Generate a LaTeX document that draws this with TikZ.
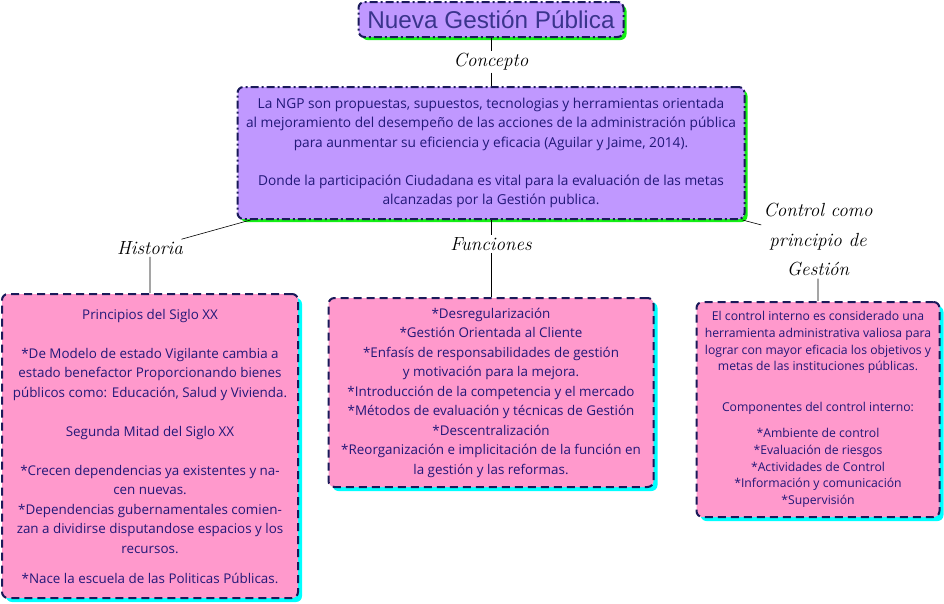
\documentclass[tikz,border=0pt]{standalone}
\usepackage{fontspec}
\setsansfont{Open Sans}
\newfontfamily\titlefont{Liberation Sans}
\usetikzlibrary{shadows}
\definecolor{lila}{RGB}{192,152,255}
\definecolor{rosa}{RGB}{255,153,204}
\definecolor{tinta}{RGB}{34,24,120}
\definecolor{tintatit}{RGB}{58,52,140}
\definecolor{borde}{RGB}{26,26,90}
\definecolor{verde}{RGB}{20,240,20}
\definecolor{celeste}{RGB}{0,255,255}
\newcommand {\txt}[2] {\sffamily\fontsize{#1}{#2}\selectfont}

\begin{document}
\begin{tikzpicture}[x=1pt,y=-1pt,
	caja/.style={rectangle, rounded corners=6pt, draw=borde, line width=2pt, text=tinta, align=center, inner sep=0pt},
	morada/.style={caja, fill=lila, dash pattern=on 8pt off 3pt on 2pt off 3pt,
		drop shadow={shadow xshift=3pt, shadow yshift=-3pt, fill=verde, opacity=1}},
	rosada/.style={caja, fill=rosa, dash pattern=on 8pt off 5pt,
		drop shadow={shadow xshift=4pt, shadow yshift=-4pt, fill=celeste, opacity=1}},
	etiqueta/.style={font=\itshape\fontsize{19}{29.5}\selectfont, align=center, inner sep=2pt},
	linea/.style={line width=0.6pt}]
	\useasboundingbox (0,0) rectangle (944,603);
	% cabecera
	\node[morada, minimum width=265pt, minimum height=35pt, text=tintatit, font=\titlefont\fontsize{24.3}{24}\selectfont] (titulo) at (491,19.5) {Nueva Gestión Pública};
	\node[etiqueta] (lconcepto) at (491,62) {Concepto};
	\node[morada, minimum width=507pt, minimum height=132pt, font=\txt{13.7}{19.5}] (concepto) at (491,153) {La NGP son propuestas, supuestos, tecnologias y herramientas orientada\\
		al mejoramiento del desempeño de las acciones de la administración pública\\
		para aunmentar su eficiencia y eficacia (Aguilar y Jaime, 2014).\\[18.5pt]
		Donde la participación Ciudadana es vital para la evaluación de las metas\\
		alcanzadas por la Gestión publica.};
	% ramas
	\node[etiqueta] (lhistoria) at (150,248) {Historia};
	\node[etiqueta] (lfunciones) at (491,244) {Funciones};
	\node[etiqueta] (lcontrol) at (818,240) {Control como\\principio de\\Gestión};
	\node[rosada, minimum width=296pt, minimum height=304pt, font=\txt{13.4}{19.5}] (historia) at (150,446) {Principios del Siglo XX\\[19.5pt]
		*De Modelo de estado Vigilante cambia a\\
		estado benefactor Proporcionando bienes\\
		públicos como: Educación, Salud y Vivienda.\\[19.5pt]
		Segunda Mitad del Siglo XX\\[19.5pt]
		*Crecen dependencias ya existentes y na-\\
		cen nuevas.\\
		*Dependencias gubernamentales comien-\\
		zan a dividirse disputandose espacios y los\\
		recursos.\\[10.5pt]
		*Nace la escuela de las Politicas Públicas.};
	\node[rosada, minimum width=325pt, minimum height=189pt, font=\txt{13.4}{19.5}] (funciones) at (491,392.5) {*Desregularización\\
		*Gestión Orientada al Cliente\\
		*Enfasís de responsabilidades de gestión\\
		y motivación para la mejora.\\
		*Introducción de la competencia y el mercado\\
		*Métodos de evaluación y técnicas de Gestión\\
		*Descentralización\\
		*Reorganización e implicitación de la función en\\
		la gestión y las reformas.};
	\node[rosada, minimum width=243pt, minimum height=215pt, font=\txt{12.2}{16.6}] (control) at (818,409.5) {El control interno es considerado una\\
		herramienta administrativa valiosa para\\
		lograr con mayor eficacia los objetivos y\\
		metas de las instituciones públicas.\\[24pt]
		Componentes del control interno:\\[10pt]
		*Ambiente de control\\
		*Evaluación de riesgos\\
		*Actividades de Control\\
		*Información y comunicación\\
		*Supervisión};
	% conectores
	\draw[linea] (titulo) -- (lconcepto) -- (concepto);
	\draw[linea] (concepto) -- (lhistoria) -- (historia);
	\draw[linea] (concepto) -- (lfunciones) -- (funciones);
	\draw[linea] (concepto) -- (lcontrol) -- (control);
\end{tikzpicture}
\end{document}
